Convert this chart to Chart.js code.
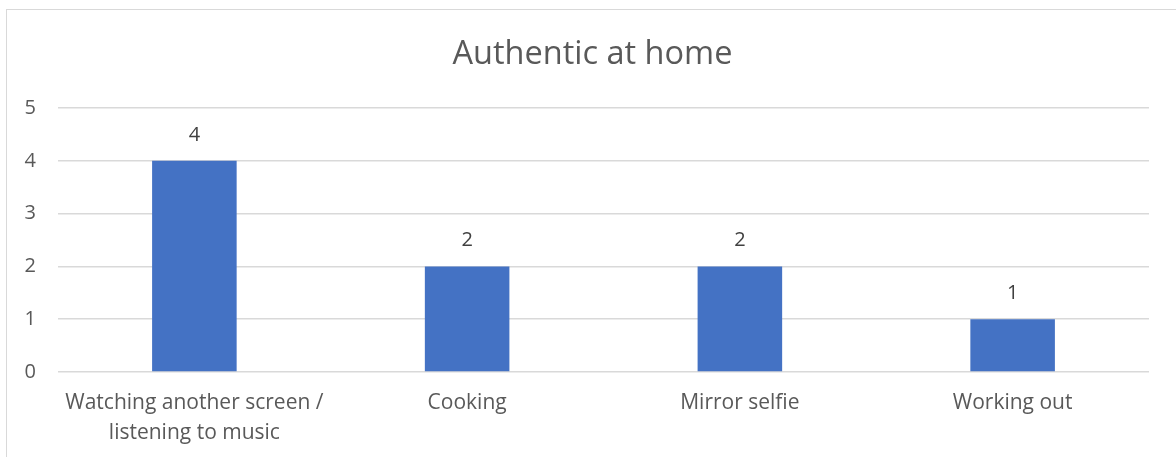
<!DOCTYPE html>
<html>
<head>
<meta charset="utf-8">
<script src="https://cdn.jsdelivr.net/npm/chart.js@4.4.1/dist/chart.umd.min.js"></script>
<style>
  html, body { margin: 0; padding: 0; background: #fff; overflow: hidden; }
  #frame {
    position: absolute; left: 6px; top: 9px;
    width: 1300px; height: 600px;
    border: 1px solid #d9d9d9; box-sizing: border-box;
  }
  #wrap { position: absolute; left: 0; top: 0; width: 1176px; height: 457px; }
</style>
</head>
<body>
<div id="frame"></div>
<div id="wrap"><canvas id="grafico"></canvas></div>
<script>
const categorias = [
  ['Watching another screen /', 'listening to music'],
  'Cooking',
  'Mirror selfie',
  'Working out'
];
const valores = [4, 2, 2, 1];
const ticksY = [0, 1, 2, 3, 4, 5];

const FUENTE = '"Open Sans", "Liberation Sans", sans-serif';
const GRIS = '#595959';

// etiquetas de valor encima de cada barra
const etiquetasValor = {
  id: 'etiquetasValor',
  afterDatasetsDraw(chart) {
    const ctx = chart.ctx;
    const meta = chart.getDatasetMeta(0);
    ctx.save();
    ctx.font = '20px ' + FUENTE;
    ctx.fillStyle = '#404040';
    ctx.textAlign = 'center';
    ctx.textBaseline = 'middle';
    meta.data.forEach(function(barra, i) {
      ctx.fillText(String(valores[i]), barra.x, barra.y - 26);
    });
    ctx.restore();
  }
};

// el titulo va centrado sobre el marco entero, no solo sobre el area visible
const centrarTitulo = {
  id: 'centrarTitulo',
  afterLayout(chart) {
    if (chart.titleBlock) chart.titleBlock.left = 36;
  }
};

document.addEventListener('DOMContentLoaded', function() {
  const ctx = document.getElementById('grafico');
  new Chart(ctx, {
    type: 'bar',
    data: {
      labels: categorias,
      datasets: [{
        data: valores,
        backgroundColor: '#4472c4',
        borderWidth: 0,
        barPercentage: 0.31,
        categoryPercentage: 1
      }]
    },
    options: {
      responsive: true,
      maintainAspectRatio: false,
      animation: false,
      layout: { padding: { left: 0, right: 27, top: 35, bottom: 0 } },
      plugins: {
        legend: { display: false },
        tooltip: { enabled: false },
        title: {
          display: true,
          text: 'Authentic at home',
          color: GRIS,
          font: { family: FUENTE, size: 32.5, weight: 'normal', lineHeight: 1.2 },
          padding: { top: 0, bottom: 34 }
        }
      },
      scales: {
        x: {
          afterFit(scale) { scale.height = 85; },
          grid: { display: false, drawTicks: false },
          border: { display: false },
          ticks: {
            color: GRIS,
            font: { family: FUENTE, size: 21, lineHeight: 1.43 },
            maxRotation: 0,
            autoSkip: false,
            padding: 16
          }
        },
        y: {
          min: 0,
          max: 5,
          afterBuildTicks(scale) {
            scale.ticks = ticksY.map(function(v) { return { value: v }; });
          },
          afterFit(scale) { scale.width = 58; },
          grid: { color: '#d9d9d9', lineWidth: 1.5, drawTicks: false },
          border: { display: false },
          ticks: {
            color: GRIS,
            font: { family: FUENTE, size: 20 },
            padding: 22
          }
        }
      }
    },
    plugins: [etiquetasValor, centrarTitulo]
  });
});
</script>
</body>
</html>
